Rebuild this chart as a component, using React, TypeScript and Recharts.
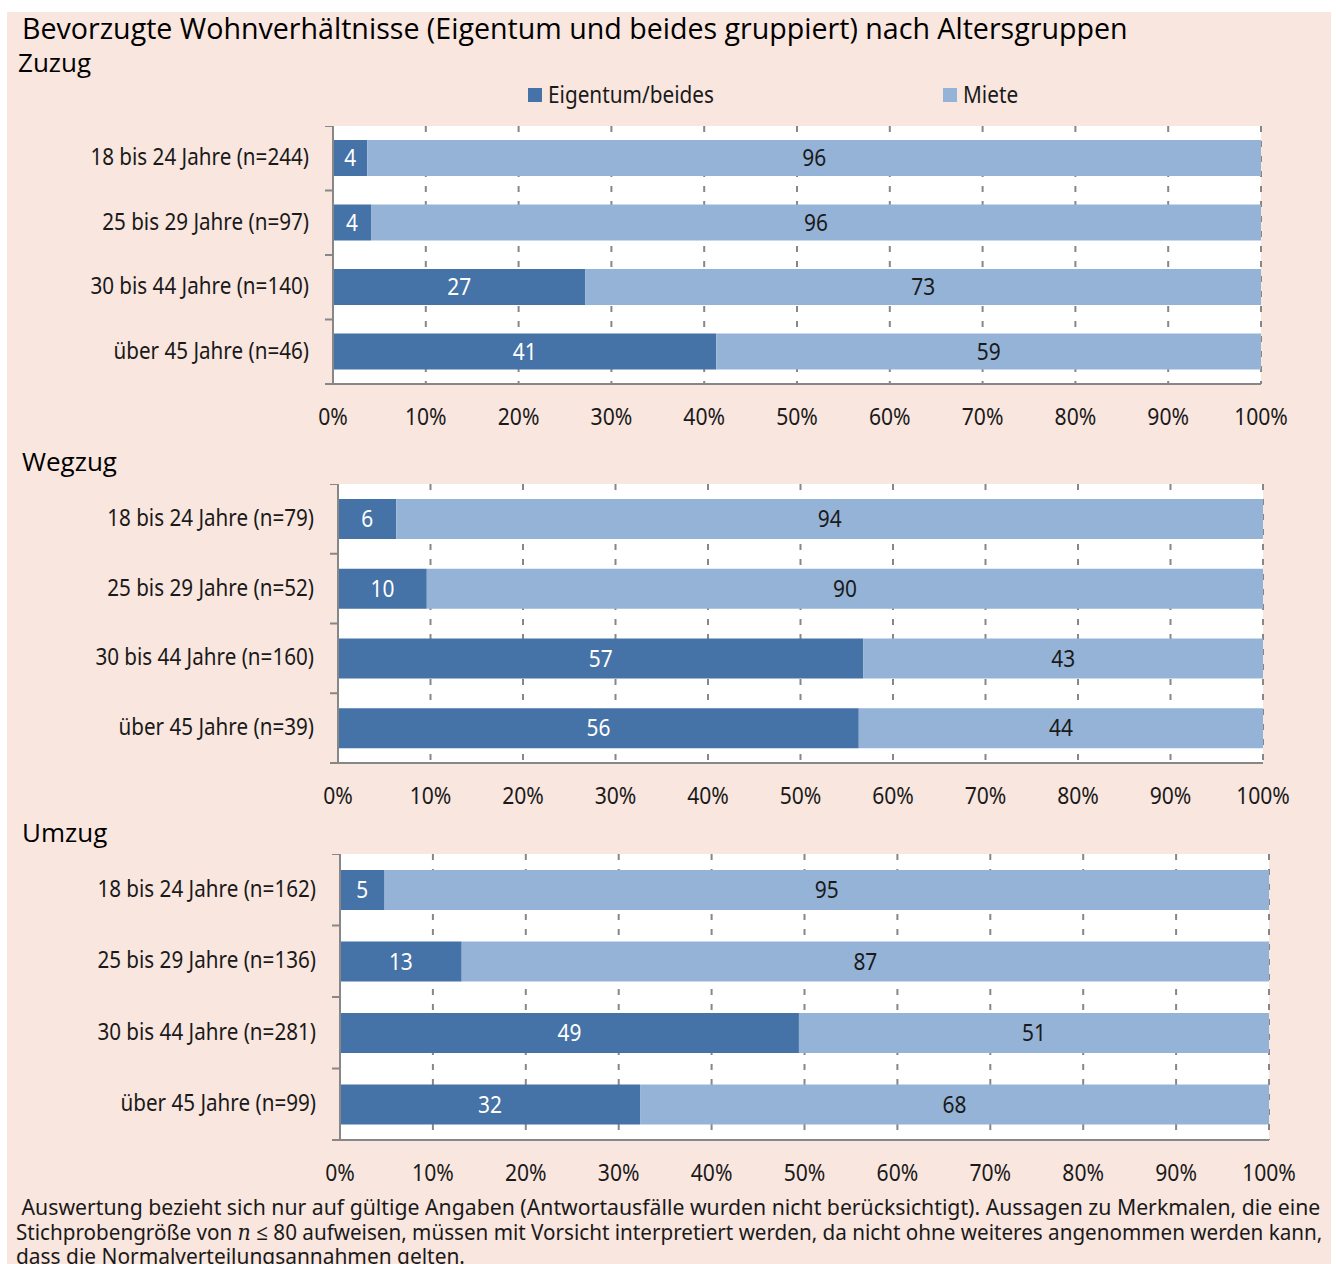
import React from "react";
import { BarChart, Bar, XAxis, YAxis, CartesianGrid, LabelList } from "recharts";

const seriesNames = ["Eigentum/beides", "Miete"];
const percentTicks = [0, 10, 20, 30, 40, 50, 60, 70, 80, 90, 100];

const zuzugGroups = ["18 bis 24 Jahre (n=244)", "25 bis 29 Jahre (n=97)", "30 bis 44 Jahre (n=140)", "über 45 Jahre (n=46)"];
const zuzugEigentum = [3.7, 4.1, 27.2, 41.3];
const zuzugMiete = [96.3, 95.9, 72.8, 58.7];

const wegzugGroups = ["18 bis 24 Jahre (n=79)", "25 bis 29 Jahre (n=52)", "30 bis 44 Jahre (n=160)", "über 45 Jahre (n=39)"];
const wegzugEigentum = [6.3, 9.6, 56.8, 56.3];
const wegzugMiete = [93.7, 90.4, 43.2, 43.7];

const umzugGroups = ["18 bis 24 Jahre (n=162)", "25 bis 29 Jahre (n=136)", "30 bis 44 Jahre (n=281)", "über 45 Jahre (n=99)"];
const umzugEigentum = [4.8, 13.1, 49.4, 32.3];
const umzugMiete = [95.2, 86.9, 50.6, 67.7];

const DARK = "#4572a7";
const LIGHT = "#95b3d7";
const AXIS = "#878787";
const PINK = "#f9e6df";
const TEXT = "#1a1a1a";
const LABEL_FONT = "'Noto Sans', 'Open Sans', sans-serif";
const HEAD_FONT = "'Open Sans', sans-serif";

function buildRows(groups: string[], eig: number[], miete: number[]) {
  return groups.map((g, i) => ({ name: g, eig: eig[i], miete: miete[i] }));
}

// narrow text: the original uses a condensed face, so squeeze horizontally
function NarrowText({ x, y, anchor, sx, fill, children }: any) {
  return (
    <text
      transform={`translate(${x},${y}) scale(${sx},1)`}
      x={0}
      y={0}
      textAnchor={anchor}
      dominantBaseline="central"
      fontSize={24}
      fill={fill}
      fontFamily={LABEL_FONT}
    >
      {children}
    </text>
  );
}

type PanelProps = {
  rows: { name: string; eig: number; miete: number }[];
  top: number;
  plotLeft: number;
  plotRight: number;
  plotHeight: number;
  barSize: number;
};

function Panel({ rows, top, plotLeft, plotRight, plotHeight, barSize }: PanelProps) {
  const band = plotHeight / rows.length;
  const yTick = (props: any) => {
    const { x, y, payload, index } = props;
    return (
      <g>
        <line x1={x - 8} x2={x} y1={y - band / 2} y2={y - band / 2} stroke={AXIS} strokeWidth={2} />
        {index === rows.length - 1 && (
          <line x1={x - 8} x2={x} y1={y + band / 2} y2={y + band / 2} stroke={AXIS} strokeWidth={2} />
        )}
        <NarrowText x={x - 24} y={y - 2} anchor="end" sx={0.86} fill={TEXT}>
          {payload.value}
        </NarrowText>
      </g>
    );
  };
  const xTick = (props: any) => {
    const { x, y, payload } = props;
    return (
      <NarrowText x={x} y={y + 11} anchor="middle" sx={0.88} fill={TEXT}>
        {`${payload.value}%`}
      </NarrowText>
    );
  };
  const barLabel = (color: string) => (props: any) => {
    const { x, y, width, height, value } = props;
    return (
      <NarrowText x={x + width / 2} y={y + height / 2 - 1} anchor="middle" sx={0.87} fill={color}>
        {Math.round(value)}
      </NarrowText>
    );
  };
  return (
    <div style={{ position: "absolute", left: 0, top }}>
      <BarChart
        width={1336}
        height={plotHeight + 50}
        data={rows}
        layout="vertical"
        margin={{ top: 0, right: 1336 - plotRight, left: 0, bottom: 0 }}
        barSize={barSize}
      >
        <CartesianGrid horizontal={false} vertical={true} fill="#ffffff" stroke={AXIS} strokeWidth={2} strokeDasharray="6 9" />
        <XAxis
          type="number"
          domain={[0, 100]}
          ticks={percentTicks}
          axisLine={{ stroke: AXIS, strokeWidth: 2 }}
          tickLine={false}
          tickSize={0}
          tickMargin={21}
          height={50}
          tick={xTick}
          interval={0}
        />
        <YAxis
          type="category"
          dataKey="name"
          width={plotLeft}
          axisLine={{ stroke: AXIS, strokeWidth: 2 }}
          tickLine={false}
          tickSize={0}
          tickMargin={0}
          tick={yTick}
          interval={0}
        />
        <Bar dataKey="eig" name={seriesNames[0]} stackId="a" fill={DARK} isAnimationActive={false}>
          <LabelList dataKey="eig" content={barLabel("#ffffff")} />
        </Bar>
        <Bar dataKey="miete" name={seriesNames[1]} stackId="a" fill={LIGHT} isAnimationActive={false}>
          <LabelList dataKey="miete" content={barLabel(TEXT)} />
        </Bar>
      </BarChart>
    </div>
  );
}

const heading = (text: string, left: number, top: number, size: number) => (
  <div style={{ position: "absolute", left, top, fontSize: size, fontFamily: HEAD_FONT, color: "#000", lineHeight: 1, whiteSpace: "nowrap" }}>
    {text}
  </div>
);

const legendItem = (label: string, color: string, left: number) => (
  <div style={{ position: "absolute", left, top: 80, display: "flex", alignItems: "center", fontFamily: LABEL_FONT, fontSize: 24, lineHeight: "28px", color: TEXT }}>
    <span style={{ width: 14, height: 14, background: color, marginRight: 6, marginTop: 2 }} />
    <span style={{ display: "inline-block", transform: "scaleX(0.865)", transformOrigin: "left center", whiteSpace: "nowrap" }}>{label}</span>
  </div>
);

const noteLine = (top: number, sx: number, content: React.ReactNode) => (
  <div
    style={{
      position: "absolute",
      left: 16,
      top,
      fontFamily: LABEL_FONT,
      fontSize: 22,
      lineHeight: "24px",
      color: TEXT,
      whiteSpace: "nowrap",
      transform: `scaleX(${sx})`,
      transformOrigin: "left top",
    }}
  >
    {content}
  </div>
);

export default function App() {
  return (
    <div style={{ position: "absolute", left: 0, top: 0, width: 1336, height: 1264, background: "#fff", overflow: "hidden" }}>
      <div style={{ position: "absolute", left: 7, top: 12, width: 1324, height: 1252, background: PINK }} />
      {heading("Bevorzugte Wohnverhältnisse (Eigentum und beides gruppiert) nach Altersgruppen", 22, 14, 28.6)}
      {heading("Zuzug", 18, 49, 26)}
      {heading("Wegzug", 22, 448, 26)}
      {heading("Umzug", 22, 819, 26)}

      {legendItem(seriesNames[0], DARK, 528)}
      {legendItem(seriesNames[1], LIGHT, 943)}

      <Panel rows={buildRows(zuzugGroups, zuzugEigentum, zuzugMiete)} top={126} plotLeft={333} plotRight={1261} plotHeight={258} barSize={36} />
      <Panel rows={buildRows(wegzugGroups, wegzugEigentum, wegzugMiete)} top={484} plotLeft={338} plotRight={1263} plotHeight={279} barSize={40} />
      <Panel rows={buildRows(umzugGroups, umzugEigentum, umzugMiete)} top={854} plotLeft={340} plotRight={1269} plotHeight={286} barSize={40} />

      {noteLine(1194, 0.965, <>&nbsp;Auswertung bezieht sich nur auf gültige Angaben (Antwortausfälle wurden nicht berücksichtigt). Aussagen zu Merkmalen, die eine</>)}
      {noteLine(
        1219,
        0.938,
        <>
          Stichprobengröße von <i style={{ fontFamily: "'DejaVu Serif', serif" }}>n</i> ≤ 80 aufweisen, müssen mit Vorsicht interpretiert werden, da nicht ohne weiteres angenommen werden kann,
        </>
      )}
      {noteLine(1243, 0.95, <>dass die Normalverteilungsannahmen gelten.</>)}
    </div>
  );
}
